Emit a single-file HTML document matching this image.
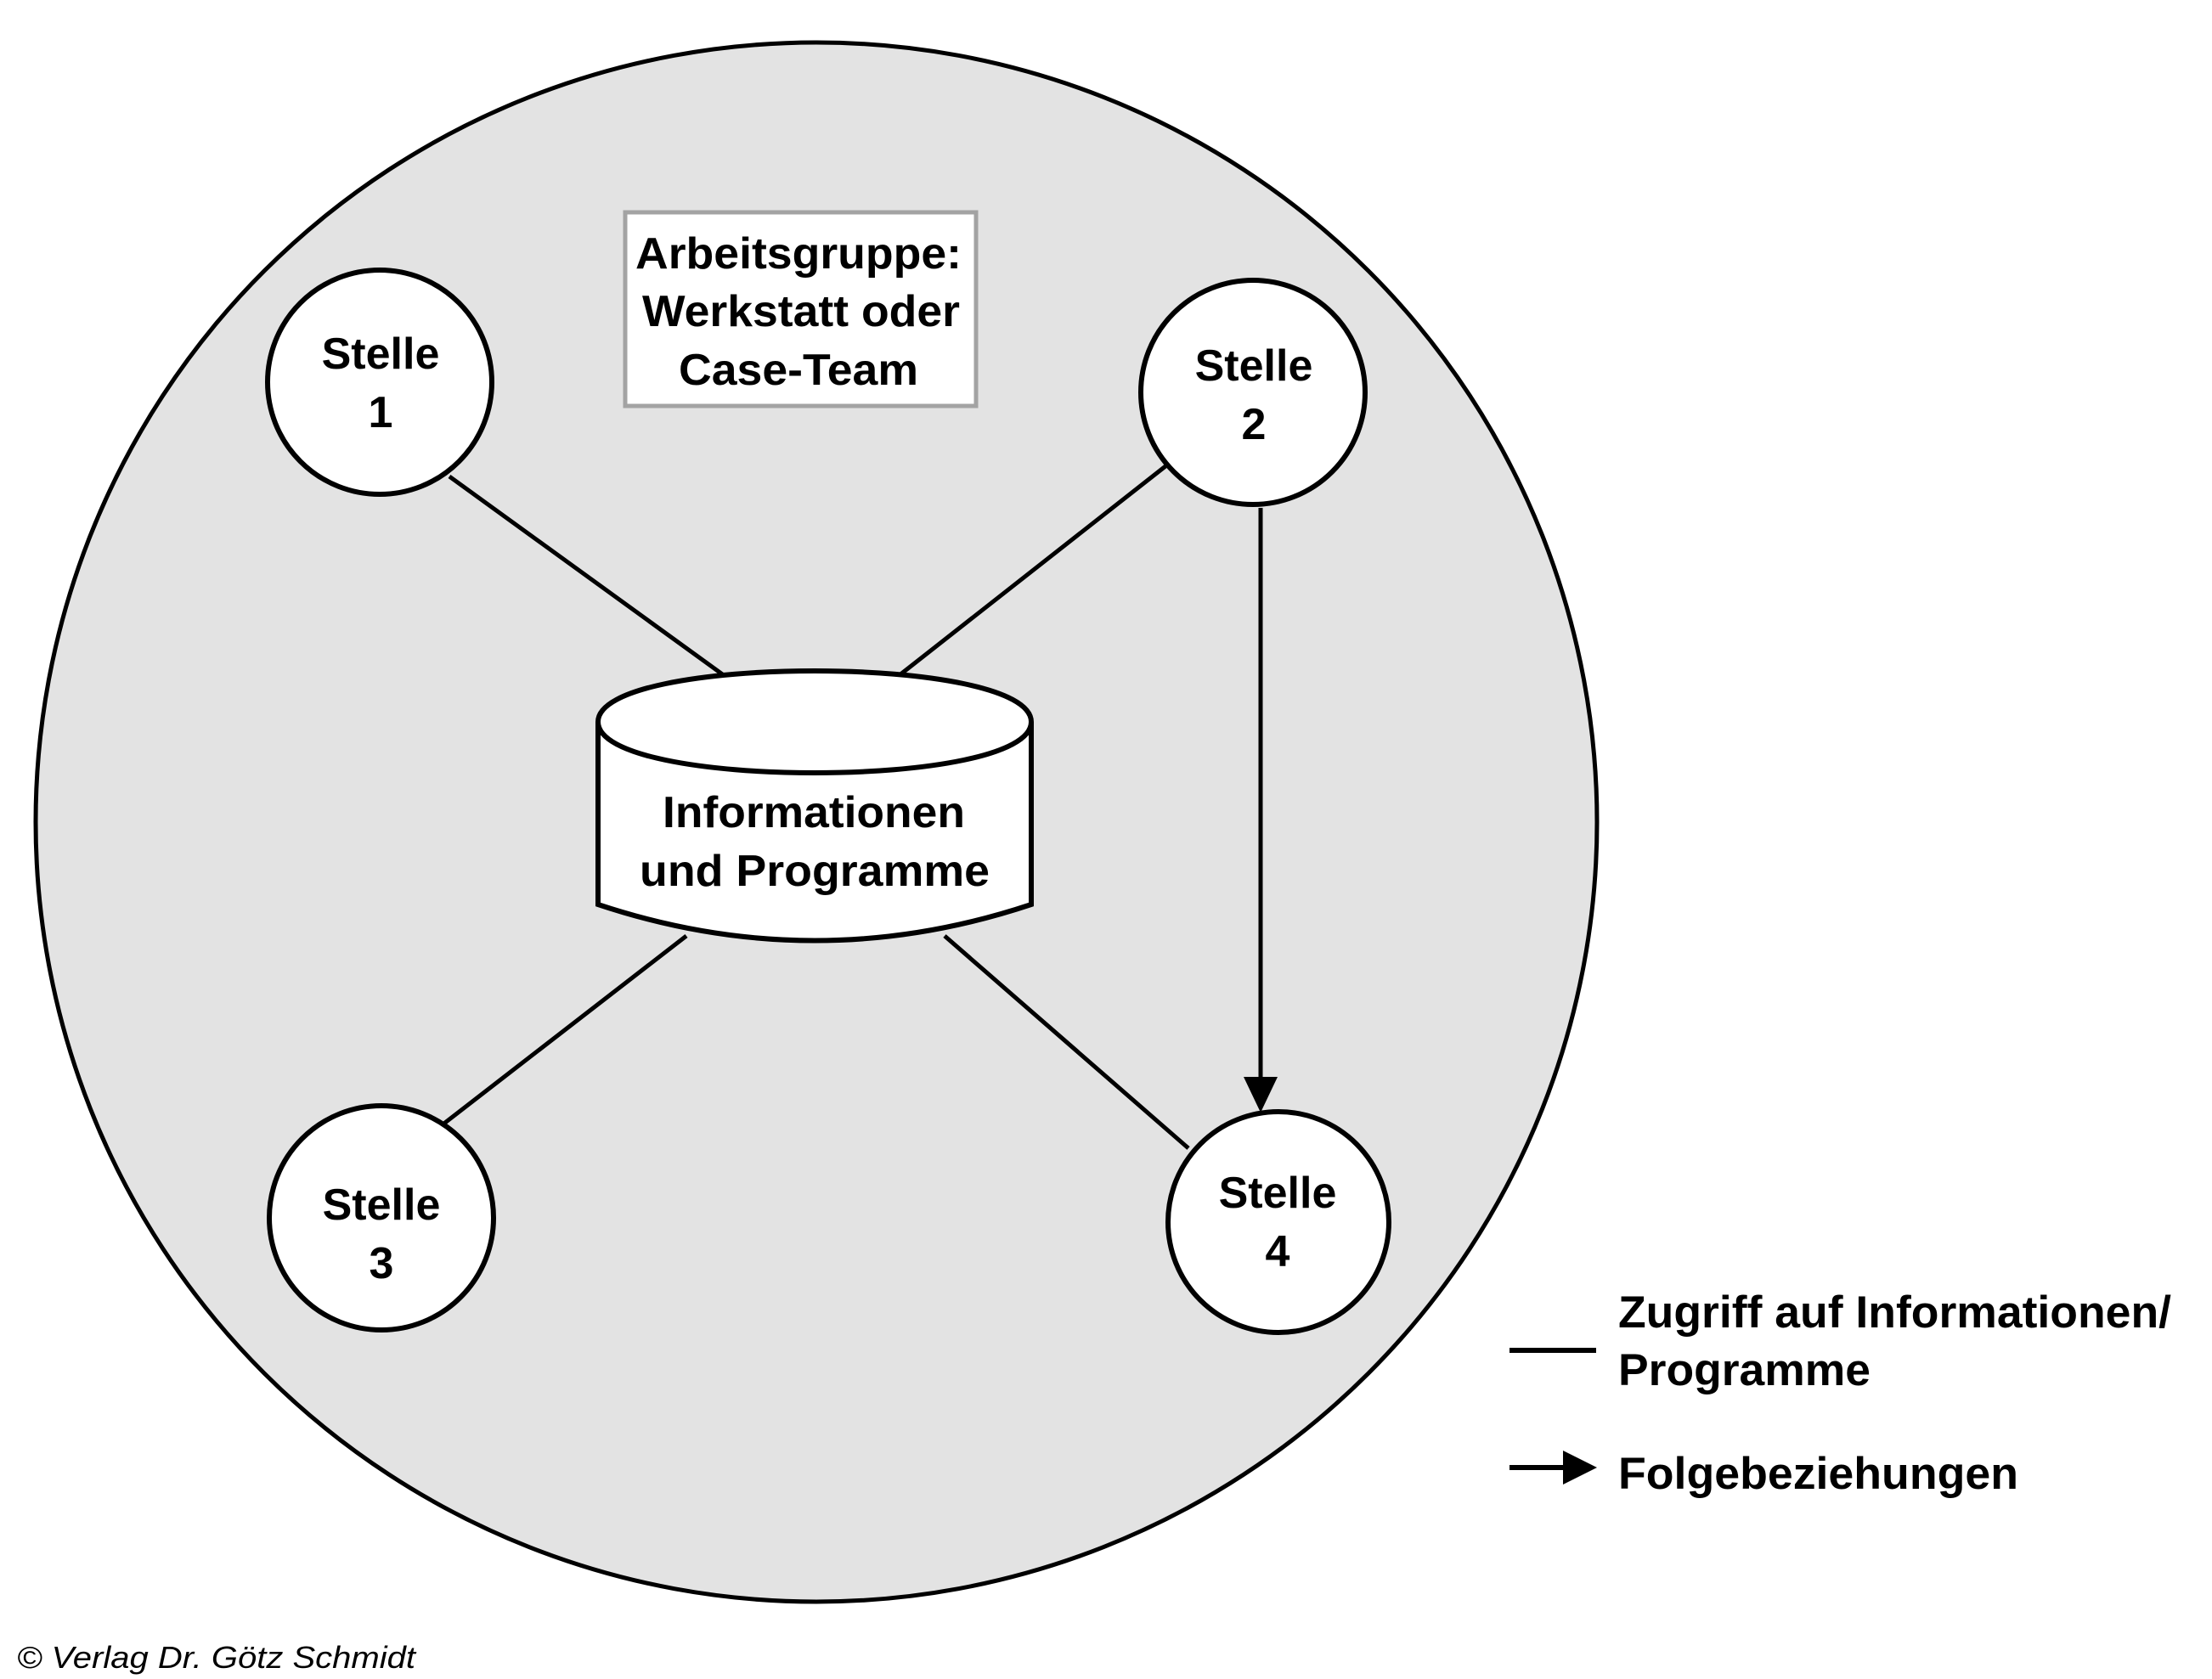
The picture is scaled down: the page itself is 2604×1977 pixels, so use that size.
<!DOCTYPE html>
<html><head><meta charset="utf-8"><style>
html,body{margin:0;padding:0;background:#fff;}
svg{display:block;}
text{font-family:"Liberation Sans",Arial,sans-serif;font-weight:bold;fill:#000;}
</style></head><body>
<svg width="2604" height="1977" viewBox="0 0 2604 1977" xmlns="http://www.w3.org/2000/svg">
<ellipse cx="961" cy="968" rx="919" ry="918" fill="#e3e3e3" stroke="#000" stroke-width="5"/>
<rect x="736" y="250" width="413" height="228" fill="#fff" stroke="#a3a3a3" stroke-width="5"/>
<text x="748" y="316" font-size="52" textLength="384" lengthAdjust="spacingAndGlyphs">Arbeitsgruppe:</text>
<text x="756" y="384" font-size="52" textLength="374" lengthAdjust="spacingAndGlyphs">Werkstatt oder</text>
<text x="799" y="453" font-size="52" textLength="282" lengthAdjust="spacingAndGlyphs">Case-Team</text>
<g stroke="#000" stroke-width="5" fill="none">
<line x1="529" y1="561" x2="856" y2="798"/>
<line x1="1372" y1="549" x2="1055" y2="798"/>
<line x1="507" y1="1335" x2="808" y2="1102"/>
<line x1="1399" y1="1352" x2="1112" y2="1102"/>
<line x1="1484" y1="598" x2="1484" y2="1275"/>
</g>
<polygon points="1464,1268 1504,1268 1484,1310" fill="#000"/>
<path d="M704,850 C704,770 1214,770 1214,850 L1214,1065 Q959,1150 704,1065 Z" fill="#fff" stroke="#000" stroke-width="6"/>
<path d="M704,850 C704,930 1214,930 1214,850" fill="none" stroke="#000" stroke-width="6"/>
<text x="780" y="974" font-size="52" textLength="356" lengthAdjust="spacingAndGlyphs">Informationen</text>
<text x="753" y="1043" font-size="52" textLength="412" lengthAdjust="spacingAndGlyphs">und Programme</text>
<g fill="#fff" stroke="#000" stroke-width="6">
<circle cx="447" cy="450" r="132"/>
<circle cx="1475" cy="462" r="132"/>
<circle cx="449" cy="1434" r="132"/>
<circle cx="1505" cy="1439" r="130"/>
</g>
<g font-size="52" text-anchor="middle">
<text x="448" y="434">Stelle</text><text x="448" y="503">1</text>
<text x="1476" y="448">Stelle</text><text x="1476" y="517">2</text>
<text x="449" y="1436">Stelle</text><text x="449" y="1505">3</text>
<text x="1504" y="1422">Stelle</text><text x="1504" y="1491">4</text>
</g>
<line x1="1777" y1="1590" x2="1879" y2="1590" stroke="#000" stroke-width="6"/>
<line x1="1777" y1="1728" x2="1850" y2="1728" stroke="#000" stroke-width="6"/>
<polygon points="1840,1708 1880,1728 1840,1748" fill="#000"/>
<text x="1905" y="1563" font-size="53" textLength="651" lengthAdjust="spacingAndGlyphs">Zugriff auf Informationen/</text>
<text x="1905" y="1631" font-size="53" textLength="297" lengthAdjust="spacingAndGlyphs">Programme</text>
<text x="1905" y="1753" font-size="53" textLength="471" lengthAdjust="spacingAndGlyphs">Folgebeziehungen</text>
<text x="20" y="1964" font-size="36" font-style="italic" textLength="469" lengthAdjust="spacingAndGlyphs" style="font-weight:normal">© Verlag Dr. Götz Schmidt</text>
</svg>
</body></html>
